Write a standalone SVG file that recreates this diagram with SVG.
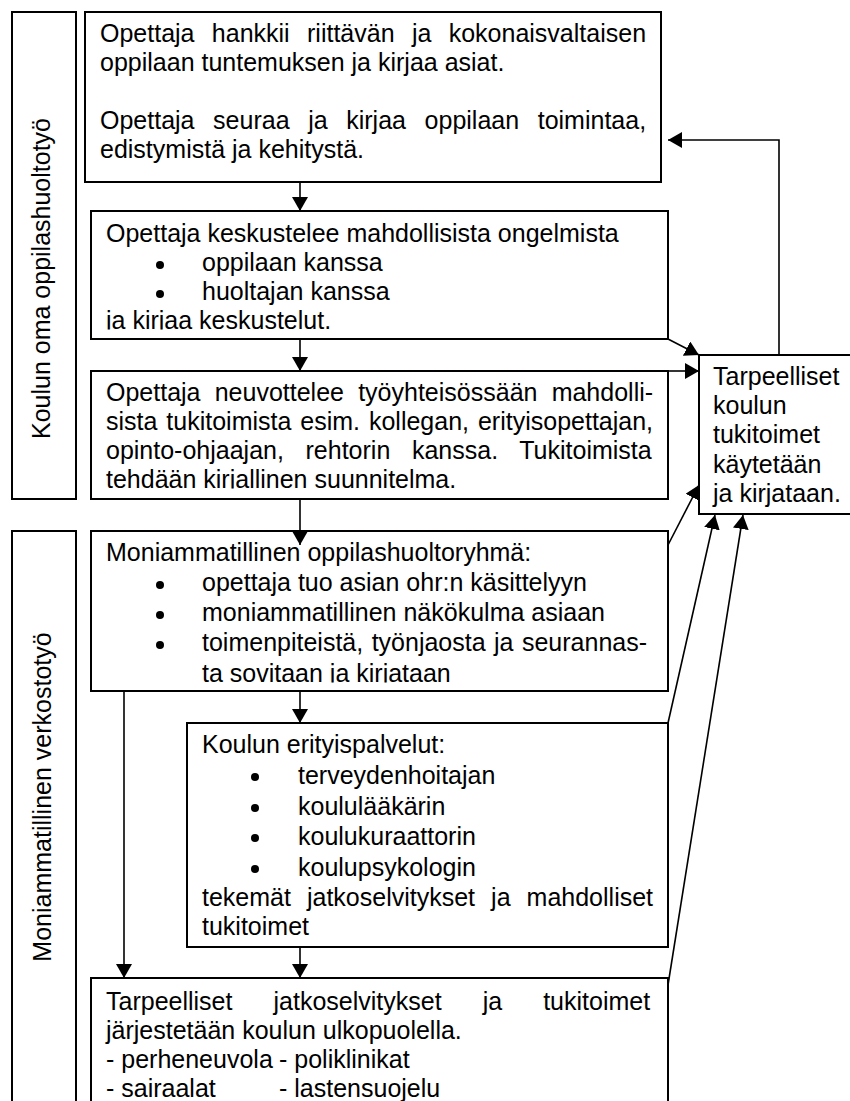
<svg xmlns="http://www.w3.org/2000/svg" width="850" height="1101" viewBox="0 0 850 1101">
<style>
  .box { fill: #ffffff; stroke: #000000; stroke-width: 2; }
  .t { font-family: "Liberation Sans", Arial, sans-serif; font-size: 25px; fill: #000000; }
  .con { fill: none; stroke: #000000; stroke-width: 1.6; }
  .dot { fill: #000000; }
</style>
<defs>
  <marker id="ah" viewBox="0 0 14 16" refX="14" refY="8" markerWidth="14" markerHeight="16" orient="auto" markerUnits="userSpaceOnUse">
    <path d="M0,0 L14,8 L0,16 z" fill="#000000"/>
  </marker>
  <clipPath id="clip2"><rect x="91" y="211" width="577" height="118.6"/></clipPath>
  <clipPath id="clip3"><rect x="91" y="371" width="577" height="117.6"/></clipPath>
  <clipPath id="clip4"><rect x="91" y="531" width="577" height="151.6"/></clipPath>
</defs>
<rect width="850" height="1101" fill="#ffffff"/>

<g id="label-koulun">
  <rect class="box" x="12" y="12" width="64" height="487"/>
  <text class="t" transform="translate(50,278.5) rotate(-90)" text-anchor="middle">Koulun oma oppilashuoltotyö</text>
</g>

<g id="label-moniammatillinen">
  <rect class="box" x="12" y="531" width="64" height="600"/>
  <text class="t" transform="translate(51,797) rotate(-90)" text-anchor="middle">Moniammatillinen verkostotyö</text>
</g>

<g id="box1">
  <rect class="box" x="85" y="12" width="576" height="170"/>
  <text class="t" x="100" y="42" word-spacing="10.4">Opettaja hankkii riittävän ja kokonaisvaltaisen</text>
  <text class="t" x="100" y="71">oppilaan tuntemuksen ja kirjaa asiat.</text>
  <text class="t" x="100" y="129" word-spacing="11.66">Opettaja seuraa ja kirjaa oppilaan toimintaa,</text>
  <text class="t" x="100" y="158">edistymistä ja kehitystä.</text>
</g>

<g id="box2">
  <rect class="box" x="91" y="211" width="577" height="128"/>
  <g clip-path="url(#clip2)">
    <text class="t" x="106" y="242">Opettaja keskustelee mahdollisista ongelmista</text>
    <circle class="dot" cx="160" cy="265" r="4"/>
    <text class="t" x="202" y="271">oppilaan kanssa</text>
    <circle class="dot" cx="160" cy="294" r="4"/>
    <text class="t" x="202" y="300">huoltajan kanssa</text>
    <text class="t" x="106" y="329">ja kirjaa keskustelut.</text>
  </g>
</g>

<g id="box3">
  <rect class="box" x="91" y="371" width="577" height="128"/>
  <g clip-path="url(#clip3)">
    <text class="t" x="106" y="401" word-spacing="7.25">Opettaja neuvottelee työyhteisössään mahdolli-</text>
    <text class="t" x="106" y="430" word-spacing="1.98">sista tukitoimista esim. kollegan, erityisopettajan,</text>
    <text class="t" x="106" y="459" word-spacing="14.67">opinto-ohjaajan, rehtorin kanssa. Tukitoimista</text>
    <text class="t" x="106" y="488">tehdään kirjallinen suunnitelma.</text>
  </g>
</g>

<g id="box4">
  <rect class="box" x="91" y="531" width="577" height="160"/>
  <g clip-path="url(#clip4)">
    <text class="t" x="106" y="561">Moniammatillinen oppilashuoltoryhmä:</text>
    <circle class="dot" cx="160" cy="585" r="4"/>
    <text class="t" x="202" y="591">opettaja tuo asian ohr:n käsittelyyn</text>
    <circle class="dot" cx="160" cy="615" r="4"/>
    <text class="t" x="202" y="621">moniammatillinen näkökulma asiaan</text>
    <circle class="dot" cx="160" cy="645" r="4"/>
    <text class="t" x="202" y="651" word-spacing="1.5">toimenpiteistä, työnjaosta ja seurannas-</text>
    <text class="t" x="202" y="682">ta sovitaan ja kirjataan</text>
  </g>
</g>

<g id="box5">
  <rect class="box" x="187" y="723" width="481" height="224"/>
  <text class="t" x="202" y="753">Koulun erityispalvelut:</text>
  <circle class="dot" cx="255" cy="777" r="4"/>
  <text class="t" x="298" y="784">terveydenhoitajan</text>
  <circle class="dot" cx="255" cy="808" r="4"/>
  <text class="t" x="298" y="815">koululääkärin</text>
  <circle class="dot" cx="255" cy="838" r="4"/>
  <text class="t" x="298" y="845">koulukuraattorin</text>
  <circle class="dot" cx="255" cy="869" r="4"/>
  <text class="t" x="298" y="876">koulupsykologin</text>
  <text class="t" x="202" y="906" word-spacing="9.08">tekemät jatkoselvitykset ja mahdolliset</text>
  <text class="t" x="202" y="935">tukitoimet</text>
</g>

<g id="box6">
  <rect class="box" x="91" y="978" width="577" height="160"/>
  <text class="t" x="106" y="1010" word-spacing="34.1">Tarpeelliset jatkoselvitykset ja tukitoimet</text>
  <text class="t" x="106" y="1039">järjestetään koulun ulkopuolella.</text>
  <text class="t" y="1068"><tspan x="106">- perheneuvola</tspan><tspan x="279">- poliklinikat</tspan></text>
  <text class="t" y="1097"><tspan x="106">- sairaalat</tspan><tspan x="279">- lastensuojelu</tspan></text>
</g>

<g id="box-right">
  <rect class="box" x="699" y="355" width="170" height="159"/>
  <text class="t" x="713" y="385">Tarpeelliset</text>
  <text class="t" x="713" y="414">koulun</text>
  <text class="t" x="713" y="443">tukitoimet</text>
  <text class="t" x="713" y="473">käytetään</text>
  <text class="t" x="713" y="502">ja kirjataan.</text>
</g>

<g id="connectors">
  <line class="con" x1="300" y1="182" x2="300" y2="211" marker-end="url(#ah)"/>
  <line class="con" x1="300" y1="339" x2="300" y2="371" marker-end="url(#ah)"/>
  <line class="con" x1="300" y1="499" x2="300" y2="545" marker-end="url(#ah)"/>
  <line class="con" x1="300" y1="691" x2="300" y2="723" marker-end="url(#ah)"/>
  <line class="con" x1="124" y1="691" x2="124" y2="978" marker-end="url(#ah)"/>
  <line class="con" x1="300" y1="947" x2="300" y2="978" marker-end="url(#ah)"/>
  <polyline class="con" points="779,355 779,140 668,140" marker-end="url(#ah)"/>
  <line class="con" x1="668" y1="339" x2="699" y2="355" marker-end="url(#ah)"/>
  <line class="con" x1="668" y1="371" x2="699" y2="371" marker-end="url(#ah)"/>
  <line class="con" x1="668" y1="545" x2="699" y2="485" marker-end="url(#ah)"/>
  <line class="con" x1="668" y1="723" x2="715" y2="515" marker-end="url(#ah)"/>
  <line class="con" x1="668" y1="985" x2="743" y2="515" marker-end="url(#ah)"/>
</g>
</svg>
